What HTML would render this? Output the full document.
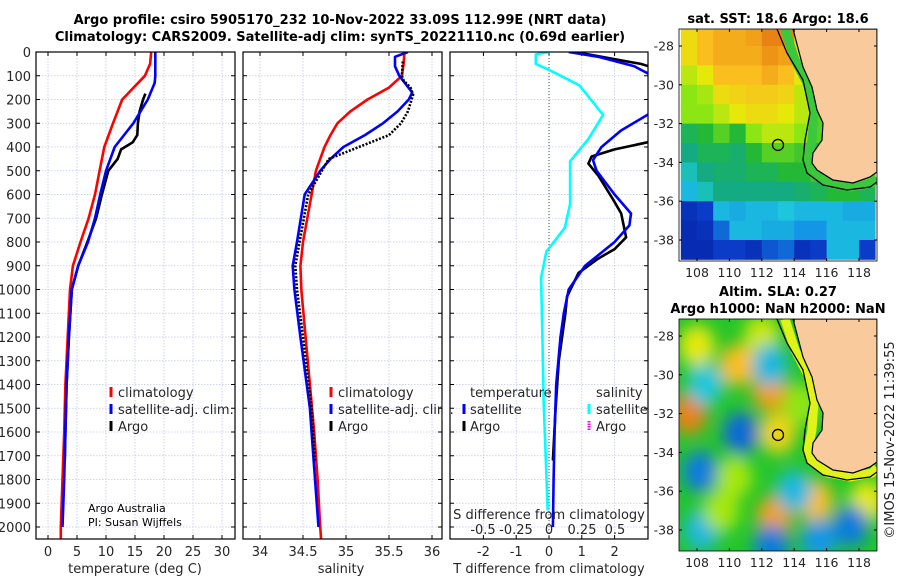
<!DOCTYPE html>
<html><head><meta charset="utf-8"><style>
html,body{margin:0;padding:0;background:#fff;}
svg{display:block;font-family:"DejaVu Sans","Liberation Sans",sans-serif;}
</style></head><body>
<svg id="fig" width="900" height="580" viewBox="0 0 900 580">
<defs>
<clipPath id="c1"><rect x="36" y="52" width="199" height="487"/></clipPath>
<clipPath id="c2"><rect x="243" y="52" width="199" height="487"/></clipPath>
<clipPath id="c3"><rect x="450" y="52" width="198" height="487"/></clipPath>
<clipPath id="cm1"><rect x="679" y="29" width="198" height="232"/></clipPath>
<clipPath id="cm2"><rect x="679" y="319" width="198" height="232"/></clipPath>
<filter id="blur" x="-50%" y="-50%" width="200%" height="200%"><feGaussianBlur stdDeviation="8"/></filter>
</defs>
<g id="root"></g>
<text x="340" y="24" font-size="13" font-weight="bold" text-anchor="middle" fill="#000">Argo profile: csiro 5905170_232 10-Nov-2022 33.09S 112.99E (NRT data)</text>
<text x="340" y="41" font-size="13" font-weight="bold" text-anchor="middle" fill="#000">Climatology: CARS2009. Satellite-adj clim: synTS_20221110.nc (0.69d earlier)</text>
<text x="778" y="23" font-size="13" font-weight="bold" text-anchor="middle">sat. SST: 18.6 Argo: 18.6</text>
<text x="778" y="296" font-size="13" font-weight="bold" text-anchor="middle">Altim. SLA: 0.27</text>
<text x="778" y="313" font-size="13" font-weight="bold" text-anchor="middle">Argo h1000: NaN h2000: NaN</text>
<text transform="translate(894,440) rotate(-90)" font-size="13" text-anchor="middle" fill="#222">©IMOS 15-Nov-2022 11:39:55</text>
</svg>
<script>
// ---------- profile data ----------
const yTicks=[0,100,200,300,400,500,600,700,800,900,1000,1100,1200,1300,1400,1500,1600,1700,1800,1900,2000];
const tTicks=[0,5,10,15,20,25,30];
const sTicks=[34,34.5,35,35.5,36];
const dTicks=[-2,-1,0,1,2];
const dsTicks=[-0.5,-0.25,0,0.25,0.5];
const dsTickLabels=["-0.5","-0.25","0","0.25","0.5"];

const tClimDepth=[0,50,100,200,300,400,500,600,700,800,900,1000,1200,1400,1600,1800,2000,2050];
const tClim=[17.8,17.6,16.7,12.8,11.2,9.7,8.9,8.1,7.0,5.6,4.3,3.8,3.4,3.0,2.8,2.5,2.2,2.2];
const tSatDepth=[0,100,130,200,300,400,500,600,700,800,900,1000,1200,1400,1600,1800,2000];
const tSat=[18.5,18.5,18.4,17.2,14.7,11.5,10.0,9.0,8.1,6.9,5.2,4.1,3.6,3.2,3.0,2.8,2.5];
const tArgoDepth=[175,200,250,300,350,380,410,450,500,600,700,800,900,1000,1200,1400,1600,1720];
const tArgo=[16.8,16.4,15.8,15.5,15.4,14.6,12.6,12.0,10.4,9.3,8.3,6.8,5.2,4.1,3.6,3.2,3.0,2.9];

const sClimDepth=[0,50,100,150,200,250,300,350,400,500,600,700,800,900,1000,1200,1400,1600,1800,2000,2050];
const sClim=[35.68,35.67,35.65,35.5,35.25,35.05,34.9,34.82,34.75,34.65,34.6,34.55,34.5,34.47,34.48,34.53,34.58,34.63,34.67,34.7,34.71];
const sSatDepth=[0,20,60,100,170,200,250,300,350,400,450,500,600,800,900,1000,1200,1500,1700,2000];
const sSat=[35.72,35.57,35.57,35.62,35.77,35.73,35.6,35.43,35.22,34.97,34.82,34.7,34.52,34.43,34.38,34.4,34.47,34.58,34.62,34.68];
const sArgoDepth=[40,100,120,150,180,250,300,350,400,450,500,600,800,900,1000,1200,1500,1720];
const sArgo=[35.66,35.65,35.67,35.75,35.78,35.72,35.64,35.5,35.15,34.8,34.72,34.56,34.46,34.41,34.43,34.5,34.6,34.64];

const dTSatDepth=[0,20,60,104,200,265,330,400,455,500,600,680,730,800,900,1000,1100,1200,1400,1600,1800,2000];
const dTSat=[0.6,1.5,2.6,3.2,4.0,3.0,2.2,1.6,1.34,1.45,2.0,2.5,2.45,2.0,1.1,0.6,0.45,0.35,0.22,0.17,0.14,0.12];
const dTArgoDepth=[0,50,100,200,300,380,410,440,470,520,620,680,780,830,870,930,1030,1100,1300,1500,1720];
const dTArgo=[0.8,2.8,4.0,3.05,4.0,3.0,2.0,1.3,1.2,1.5,1.95,2.2,2.35,2.0,1.5,0.9,0.55,0.5,0.3,0.2,0.12];
const dSSatDepth=[0,10,50,75,140,265,365,460,640,740,840,950,1200,1480,1930];
const dSSat=[0.0,-0.1,-0.1,0.0,0.23,0.41,0.3,0.16,0.16,0.12,-0.02,-0.06,-0.05,-0.04,-0.01];

// ---------- map data ----------
const lonTicks=[108,110,112,114,116,118];
const latTicks=[-28,-30,-32,-34,-36,-38];
const sstLons=[107,108,109,110,111,112,113,114,115,116,117,118];
const sstLats=[-27,-28,-29,-30,-31,-32,-33,-34,-35,-36,-37,-38];
const sstGrid=[
[.68,.75,.78,.78,.8,.85,.85,.7,.5,.5,.5,.5],
[.68,.75,.78,.78,.78,.82,.8,.7,.5,.5,.5,.5],
[.6,.65,.75,.75,.75,.78,.75,.65,.5,.5,.5,.5],
[.55,.58,.68,.7,.72,.72,.7,.6,.5,.5,.5,.5],
[.55,.55,.6,.65,.68,.68,.65,.6,.5,.5,.5,.5],
[.42,.45,.5,.45,.55,.6,.6,.55,.5,.5,.5,.5],
[.38,.42,.42,.4,.45,.5,.5,.48,.45,.5,.5,.5],
[.35,.38,.4,.4,.42,.42,.45,.45,.48,.5,.5,.5],
[.3,.35,.38,.38,.38,.38,.38,.4,.42,.45,.45,.42],
[.12,.15,.3,.28,.3,.3,.32,.3,.3,.3,.28,.28],
[.1,.12,.2,.3,.3,.28,.28,.25,.25,.3,.3,.3],
[.1,.1,.15,.15,.12,.18,.2,.12,.15,.3,.3,.15]];
const slaBlobLon=[107.5,110.5,112.5,113,112.8,115.3,118.5,108,112,110.7,108.2,108.3,112.5,108.5,114,117.5,115.5,112.6,110.3,114.5,109.5];
const slaBlobLat=[-32,-29.5,-30.8,-33,-37.3,-36.5,-36.5,-28.5,-28,-33,-35,-38,-29.5,-30.5,-36,-37.8,-38.5,-38.8,-35.3,-31.5,-37];
const slaBlobVal=[0.85,0.75,0.8,0.7,0.8,0.75,0.65,0.65,0.62,0.2,0.22,0.3,0.3,0.32,0.3,0.22,0.25,0.22,0.58,0.55,0.58];
const argoLon=113.0, argoLat=-33.1;

const NS="http://www.w3.org/2000/svg";
const root=document.getElementById('root');
function mk(tag,attrs,parent){const e=document.createElementNS(NS,tag);for(const k in attrs)e.setAttribute(k,attrs[k]);(parent||root).appendChild(e);return e;}
const yD=d=>52+d*0.2375;
const x1=v=>48+v*5.8;
const x2=v=>260+(v-34)*86;
const xT=v=>549+v*32.8;
const xS=v=>549+v*132;

function panel(name){
  const g=mk('g',{});
  
  
  return g;
}
function gridAndFrame(g,L,R,xs,xf){
  yTicks.forEach(t=>{
    const ln=mk('line',{x1:L,x2:R,y1:yD(t),y2:yD(t),stroke:'#c3c9e6','stroke-width':0.8,'stroke-dasharray':'1.5,1.5'},g);
    
    
    mk('line',{x1:L,x2:L+4,y1:yD(t),y2:yD(t),stroke:'#000'},g);
    mk('line',{x1:R-4,x2:R,y1:yD(t),y2:yD(t),stroke:'#000'},g);
  });
  xs.forEach(t=>{
    const x=xf(t);
    const ln=mk('line',{x1:x,x2:x,y1:52,y2:539,stroke:'#c3c9e6','stroke-width':0.8,'stroke-dasharray':'1.5,1.5'},g);
    
    
    mk('line',{x1:x,x2:x,y1:539,y2:535,stroke:'#000'},g);
    mk('line',{x1:x,x2:x,y1:52,y2:56,stroke:'#000'},g);
  });
}
function frame(g,L,R){
  const f=mk('rect',{x:L,y:52,width:R-L,height:487,fill:'none',stroke:'#000','stroke-width':1.2},g);
  
  
}
function line(g,ds,vs,xf,color,w,clip,name,dash){
  const pts=ds.map((d,i)=>xf(vs[i]).toFixed(1)+','+yD(d).toFixed(1)).join(' ');
  const a={points:pts,fill:'none',stroke:color,'stroke-width':w,'stroke-linejoin':'round','clip-path':'url(#'+clip+')'};
  if(dash)a['stroke-dasharray']=dash;
  const p=mk('polyline',a,g);
  
  
}
function text(g,x,y,s,opts,name){
  const t=mk('text',Object.assign({x:x,y:y,'font-size':13,fill:'#262626'},opts||{}),g);
  t.textContent=s;
  
  
  return t;
}
function legMark(g,x,y,color,name,dash){
  const a={x1:x,x2:x,y1:y-10,y2:y,stroke:color,'stroke-width':3};
  if(dash)a['stroke-dasharray']=dash;
  const l=mk('line',a,g);
  
  
}

// Panel 1: temperature
const g1=panel('temperature-panel');
gridAndFrame(g1,36,235,tTicks,x1);
line(g1,tClimDepth,tClim,x1,'#ff0000',2.6,'c1','temperature-climatology-line');
line(g1,tArgoDepth,tArgo,x1,'#000',2.6,'c1','temperature-argo-line');
line(g1,tSatDepth,tSat,x1,'#0000ff',2.6,'c1','temperature-satellite-line');
frame(g1,36,235);
yTicks.forEach(t=>text(g1,31,yD(t)+5,String(t),{'text-anchor':'end'},'y-tick-label'));
tTicks.forEach(t=>text(g1,x1(t),556,String(t),{'text-anchor':'middle'},'x-tick-label-temperature'));
text(g1,135,573,'temperature (deg C)',{'text-anchor':'middle'},'x-axis-title-temperature');
legMark(g1,111,397,'#ff0000','legend-mark-climatology');
text(g1,118,397,'climatology',{},'legend-entry-climatology');
legMark(g1,111,414,'#0000ff','legend-mark-satellite');
text(g1,118,414,'satellite-adj. clim.',{},'legend-entry-satellite');
legMark(g1,111,431,'#000','legend-mark-argo');
text(g1,118,431,'Argo',{},'legend-entry-argo');
text(g1,88,512,'Argo Australia',{'font-size':11,fill:'#000'},'credit-argo-australia');
text(g1,88,526,'PI: Susan Wijffels',{'font-size':11,fill:'#000'},'credit-pi');

// Panel 2: salinity
const g2=panel('salinity-panel');
gridAndFrame(g2,243,442,sTicks,x2);
line(g2,sClimDepth,sClim,x2,'#ff0000',2.6,'c2','salinity-climatology-line');
line(g2,sSatDepth,sSat,x2,'#0000ff',2.6,'c2','salinity-satellite-line');
line(g2,sArgoDepth,sArgo,x2,'#000',2.6,'c2','salinity-argo-line','2,1.6');
frame(g2,243,442);
sTicks.forEach(t=>text(g2,x2(t),556,String(t),{'text-anchor':'middle'},'x-tick-label-salinity'));
text(g2,341,573,'salinity',{'text-anchor':'middle'},'x-axis-title-salinity');
legMark(g2,331,397,'#ff0000','legend-mark-climatology');
text(g2,338,397,'climatology',{},'legend-entry-climatology');
legMark(g2,331,414,'#0000ff','legend-mark-satellite');
text(g2,338,414,'satellite-adj. clim.',{},'legend-entry-satellite');
legMark(g2,331,431,'#000','legend-mark-argo');
text(g2,338,431,'Argo',{},'legend-entry-argo');
mk('rect',{x:442.6,y:400,width:7,height:20,fill:'#fff'},g2);

// Panel 3: differences
const g3=panel('difference-panel');
gridAndFrame(g3,450,648,dTicks,xT);
const zl=mk('line',{x1:549,x2:549,y1:52,y2:539,stroke:'#3a5a3a','stroke-width':1,'stroke-dasharray':'1,2'},g3);


line(g3,dSSatDepth,dSSat,xS,'#00ffff',2.6,'c3','salinity-diff-satellite-line');
line(g3,dTArgoDepth,dTArgo,xT,'#000',2.6,'c3','temperature-diff-argo-line');
line(g3,dTSatDepth,dTSat,xT,'#0000ff',2.6,'c3','temperature-diff-satellite-line');
frame(g3,450,648);
dTicks.forEach(t=>text(g3,xT(t),556,String(t),{'text-anchor':'middle'},'x-tick-label-tdiff'));
text(g3,549,573,'T difference from climatology',{'text-anchor':'middle'},'x-axis-title-tdiff');
text(g3,549,519,'S difference from climatology',{'text-anchor':'middle'},'s-axis-title');
dsTicks.forEach((t,i)=>text(g3,xS(t),534,dsTickLabels[i],{'text-anchor':'middle'},'s-tick-label'));
text(g3,470,397,'temperature',{},'legend-title-temperature');
legMark(g3,464,414,'#0000ff','legend-mark-tsat');
text(g3,470,414,'satellite',{},'legend-entry-tsat');
legMark(g3,464,431,'#000','legend-mark-targo');
text(g3,470,431,'Argo',{},'legend-entry-targo');
text(g3,596,397,'salinity',{},'legend-title-salinity');
legMark(g3,589,414,'#00ffff','legend-mark-ssat');
text(g3,596,414,'satellite',{},'legend-entry-ssat');
legMark(g3,589,431,'#ff00ff','legend-mark-sargo','1.5,1');
text(g3,596,431,'Argo',{},'legend-entry-sargo');

// ---------- maps ----------
const stops=[[0,[0,10,130]],[.15,[10,60,200]],[.25,[20,150,230]],[.33,[30,205,220]],[.38,[20,170,130]],[.45,[35,185,55]],[.55,[140,230,20]],[.65,[230,232,10]],[.75,[250,190,30]],[.85,[232,130,20]],[1,[200,80,10]]];
function cmap(v){for(let i=1;i<stops.length;i++){if(v<=stops[i][0]){const a=stops[i-1],b=stops[i],f=(v-a[0])/(b[0]-a[0]);return 'rgb('+a[1].map((c,k)=>Math.round(c+(b[1][k]-c)*f)).join(',')+')';}}return 'rgb(200,80,10)';}
const lonX=lon=>697+(lon-108)*16.2;
const latY=(lat,off)=>off+46+(-28-lat)*19.4;
const land="793,29 803,67 812,87 817,110 823,123 822,140 813,153 812,163 817,170 833,180 853,183 870,177 877,172 877,29";
const isob="777,29 787,53 803,80 810,113 805,140 803,160 807,173 823,185 847,190 870,187 877,182";
const coastStrip="785,29 795,60 808,85 814,112 812,140 808,160 812,172 828,183 850,187 872,183 877,178";

function mapAxes(g,off){
  const top=29+off,bot=261+off;
  lonTicks.forEach(l=>{const x=lonX(l);mk('line',{x1:x,x2:x,y1:bot,y2:bot-3,stroke:'#000'},g);mk('line',{x1:x,x2:x,y1:top,y2:top+3,stroke:'#000'},g);text(g,x,bot+16,String(l),{'text-anchor':'middle','font-size':12.5},'map-lon-tick-label');});
  latTicks.forEach(l=>{const y=latY(l,off);mk('line',{x1:679,x2:682,y1:y,y2:y,stroke:'#000'},g);mk('line',{x1:874,x2:877,y1:y,y2:y,stroke:'#000'},g);text(g,674,y+4.5,String(l),{'text-anchor':'end','font-size':12.5},'map-lat-tick-label');});
  const f=mk('rect',{x:679,y:top,width:198,height:232,fill:'none',stroke:'#000','stroke-width':0.8},g);
  
  
}
function coast(g,off,stripColor){
  const tr='translate(0,'+off+')';
  const s=mk('polyline',{points:coastStrip,fill:'none',stroke:stripColor,'stroke-width':9,transform:tr},g);
  
  
  const l=mk('polygon',{points:land,fill:'#f9cb9c',stroke:'#000','stroke-width':1.2,transform:tr},g);
  
  
  const b=mk('polyline',{points:isob,fill:'none',stroke:'#000','stroke-width':1.3,transform:tr},g);
  
  
  const c=mk('circle',{cx:lonX(argoLon),cy:latY(argoLat,off),r:5.5,fill:'none',stroke:'#000','stroke-width':1.3},g);
  
  
}
// SST map
const gm1=mk('g',{'clip-path':'url(#cm1)'});


sstGrid.forEach((row,r)=>row.forEach((v,c)=>{
  const x=lonX(sstLons[c]),y=latY(sstLats[r],0);
  const cell=mk('rect',{x:x,y:y,width:16.6,height:19.8,fill:cmap(v)},gm1);
  
  
}));
coast(gm1,0,'#3cc83c');
const gm1a=mk('g',{});


mapAxes(gm1a,0);

// SLA map
const gm2=mk('g',{'clip-path':'url(#cm2)'});


mk('rect',{x:679,y:319,width:198,height:232,fill:'#25c52c'},gm2);
const bg=mk('g',{filter:'url(#blur)'},gm2);
slaBlobVal.forEach((v,i)=>{
  const e=mk('ellipse',{cx:lonX(slaBlobLon[i]),cy:latY(slaBlobLat[i],290),rx:18,ry:21,fill:cmap(v)},bg);
  
  
});
coast(gm2,290,'#dff21a');
const gm2a=mk('g',{});


mapAxes(gm2a,290);
</script>
</body></html>
